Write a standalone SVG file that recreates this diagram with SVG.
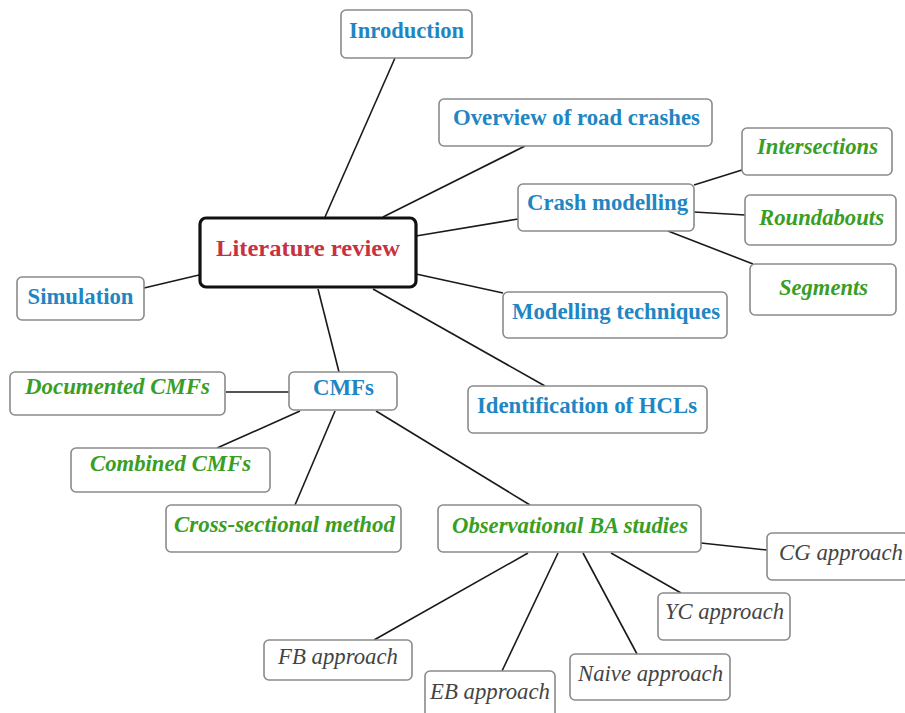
<svg xmlns="http://www.w3.org/2000/svg" width="905" height="713" viewBox="0 0 905 713">
<style>
.box{fill:#fff;stroke:#8a8a8a;stroke-width:1.6}
.root{fill:#fff;stroke:#111;stroke-width:3.2}
.t{font-family:"Liberation Serif","Times New Roman",serif;text-anchor:middle}
.red{fill:#c8323f;font-weight:bold;font-size:24px}
.blue{fill:#1f86c4;font-weight:bold;font-size:22.5px}
.green{fill:#3a9e25;font-weight:bold;font-style:italic;font-size:22.5px}
.gray{fill:#444;font-style:italic;font-size:22.5px}
#connectors line{stroke:#1a1a1a;stroke-width:1.6}
</style>
<rect width="905" height="713" fill="#fff"/>
<g id="connectors">
<line x1="325" y1="217" x2="395" y2="58"/>
<line x1="383" y1="217" x2="525" y2="146"/>
<line x1="416" y1="236" x2="518" y2="219"/>
<line x1="199" y1="275" x2="144" y2="288"/>
<line x1="416" y1="274" x2="503" y2="293"/>
<line x1="373" y1="289" x2="545" y2="386"/>
<line x1="318" y1="289" x2="339" y2="372"/>
<line x1="694" y1="185" x2="742" y2="170"/>
<line x1="694" y1="212" x2="745" y2="215"/>
<line x1="668" y1="231" x2="753" y2="264"/>
<line x1="289" y1="392" x2="226" y2="392"/>
<line x1="300" y1="411" x2="217" y2="448"/>
<line x1="335" y1="411" x2="295" y2="505"/>
<line x1="376" y1="411" x2="530" y2="505"/>
<line x1="701" y1="543" x2="767" y2="550"/>
<line x1="611" y1="553" x2="681" y2="593"/>
<line x1="583" y1="553" x2="637" y2="654"/>
<line x1="558" y1="553" x2="502" y2="671"/>
<line x1="528" y1="553" x2="374" y2="640"/>
</g>
<g id="literature-review"><rect class="root" x="200" y="218" width="216" height="69" rx="6"/><text class="t red" x="308" y="256" textLength="184" lengthAdjust="spacingAndGlyphs">Literature review</text></g>
<g id="introduction"><rect class="box" x="341" y="10" width="131" height="48" rx="5"/><text class="t blue" x="406.5" y="37.5" textLength="115" lengthAdjust="spacingAndGlyphs">Inroduction</text></g>
<g id="overview"><rect class="box" x="439" y="99" width="273" height="47" rx="5"/><text class="t blue" x="576.5" y="125" textLength="247" lengthAdjust="spacingAndGlyphs">Overview of road crashes</text></g>
<g id="crash-modelling"><rect class="box" x="518" y="184" width="176" height="47" rx="5"/><text class="t blue" x="607.5" y="210" textLength="161" lengthAdjust="spacingAndGlyphs">Crash modelling</text></g>
<g id="intersections"><rect class="box" x="742" y="128" width="150" height="47" rx="5"/><text class="t green" x="817.5" y="154" textLength="121" lengthAdjust="spacingAndGlyphs">Intersections</text></g>
<g id="roundabouts"><rect class="box" x="745" y="195" width="151" height="50" rx="5"/><text class="t green" x="821.5" y="225" textLength="125" lengthAdjust="spacingAndGlyphs">Roundabouts</text></g>
<g id="segments"><rect class="box" x="750" y="264" width="146" height="51" rx="5"/><text class="t green" x="823.5" y="295" textLength="89" lengthAdjust="spacingAndGlyphs">Segments</text></g>
<g id="simulation"><rect class="box" x="17" y="277" width="127" height="43" rx="5"/><text class="t blue" x="80.5" y="304" textLength="106" lengthAdjust="spacingAndGlyphs">Simulation</text></g>
<g id="modelling-techniques"><rect class="box" x="503" y="292" width="224" height="46" rx="5"/><text class="t blue" x="616" y="319" textLength="208" lengthAdjust="spacingAndGlyphs">Modelling techniques</text></g>
<g id="cmfs"><rect class="box" x="289" y="372" width="108" height="38" rx="5"/><text class="t blue" x="343.5" y="395" textLength="61" lengthAdjust="spacingAndGlyphs">CMFs</text></g>
<g id="documented-cmfs"><rect class="box" x="10" y="372" width="215" height="43" rx="5"/><text class="t green" x="117.5" y="394" textLength="185" lengthAdjust="spacingAndGlyphs">Documented CMFs</text></g>
<g id="identification-hcls"><rect class="box" x="468" y="386" width="239" height="47" rx="5"/><text class="t blue" x="587" y="413" textLength="220" lengthAdjust="spacingAndGlyphs">Identification of HCLs</text></g>
<g id="combined-cmfs"><rect class="box" x="71" y="448" width="199" height="44" rx="5"/><text class="t green" x="170.5" y="471" textLength="161" lengthAdjust="spacingAndGlyphs">Combined CMFs</text></g>
<g id="cross-sectional"><rect class="box" x="166" y="505" width="235" height="47" rx="5"/><text class="t green" x="284.5" y="532" textLength="221" lengthAdjust="spacingAndGlyphs">Cross-sectional method</text></g>
<g id="observational-ba"><rect class="box" x="438" y="505" width="263" height="47" rx="5"/><text class="t green" x="570" y="532.5" textLength="236" lengthAdjust="spacingAndGlyphs">Observational BA studies</text></g>
<g id="cg-approach"><rect class="box" x="767" y="533" width="142" height="47" rx="5"/><text class="t gray" x="841" y="560" textLength="124" lengthAdjust="spacingAndGlyphs">CG approach</text></g>
<g id="yc-approach"><rect class="box" x="658" y="593" width="132" height="47" rx="5"/><text class="t gray" x="724.5" y="619" textLength="119" lengthAdjust="spacingAndGlyphs">YC approach</text></g>
<g id="fb-approach"><rect class="box" x="264" y="640" width="148" height="40" rx="5"/><text class="t gray" x="338" y="664" textLength="120" lengthAdjust="spacingAndGlyphs">FB approach</text></g>
<g id="eb-approach"><rect class="box" x="425" y="671" width="130" height="50" rx="5"/><text class="t gray" x="490" y="699" textLength="120" lengthAdjust="spacingAndGlyphs">EB approach</text></g>
<g id="naive-approach"><rect class="box" x="570" y="654" width="160" height="46" rx="5"/><text class="t gray" x="650.5" y="681" textLength="145" lengthAdjust="spacingAndGlyphs">Naive approach</text></g>
</svg>
